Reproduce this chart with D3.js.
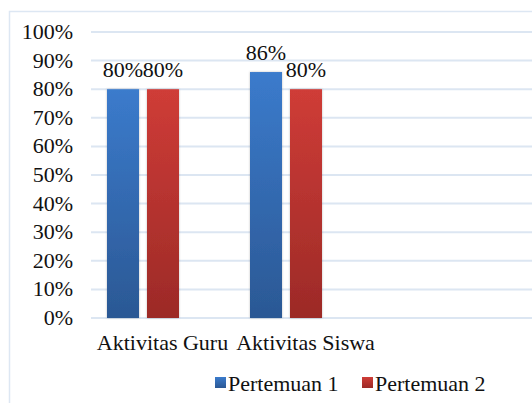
<!DOCTYPE html>
<html><head><meta charset="utf-8">
<script src="https://cdn.jsdelivr.net/npm/d3@7"></script>
<style>body{margin:0;background:#fff}svg{display:block}</style>
</head><body><svg id="c" width="532" height="403"></svg>
<script>
const categories = ["Aktivitas Guru", "Aktivitas Siswa"];
const seriesNames = ["Pertemuan 1", "Pertemuan 2"];
const pertemuan1 = [80, 86];
const pertemuan2 = [80, 80];
const yTicks = [0,10,20,30,40,50,60,70,80,90,100];

const svg = d3.select("#c");
const font = "'Liberation Serif','Times New Roman',serif";
const fs = 22;

// frame
svg.append("rect").attr("x",9.5).attr("y",11.5).attr("width",600).attr("height",500)
  .attr("fill","none").attr("stroke","#dde7f3").attr("stroke-width",1.5);

const y = d3.scaleLinear().domain([0,100]).range([318,32]);
const x0 = d3.scaleBand().domain(categories).range([91,377]).paddingInner(0).paddingOuter(0);
const x1 = d3.scaleBand().domain(seriesNames).range([-36,36]).paddingInner(0.2).paddingOuter(0);
const shift = -19.5;

// gridlines
svg.append("g").selectAll("line").data(yTicks).join("line")
  .attr("x1",91).attr("x2",532).attr("y1",d=>y(d)).attr("y2",d=>y(d))
  .attr("stroke","#dce6f2").attr("stroke-width",2);

// y labels
svg.append("g").selectAll("text").data(yTicks).join("text")
  .attr("x",73).attr("y",d=>y(d)+7).attr("text-anchor","end")
  .attr("font-family",font).attr("font-size",fs).attr("fill","#111")
  .text(d=>d+"%");

const defs = svg.append("defs");
const grads = [["#3b7bcc","#2b5894"],["#cf3c37","#9c2a27"]];
grads.forEach((g,i)=>{
  const lg = defs.append("linearGradient").attr("id","g"+i).attr("x1",0).attr("y1",0).attr("x2",0).attr("y2",1);
  lg.append("stop").attr("offset","0%").attr("stop-color",g[0]);
  lg.append("stop").attr("offset","100%").attr("stop-color",g[1]);
});
const f = defs.append("filter").attr("id","sh").attr("x","-20%").attr("y","-5%").attr("width","140%").attr("height","110%");
f.append("feDropShadow").attr("dx",0).attr("dy",0).attr("stdDeviation",1).attr("flood-color","#000").attr("flood-opacity",0.25);

const data = [];
categories.forEach((c,i)=>{
  data.push({cat:c, s:seriesNames[0], v:pertemuan1[i], k:0});
  data.push({cat:c, s:seriesNames[1], v:pertemuan2[i], k:1});
});

svg.append("g").selectAll("rect").data(data).join("rect")
  .attr("x",d=>x0(d.cat)+x0.bandwidth()/2+shift+x1(d.s))
  .attr("width",x1.bandwidth())
  .attr("y",d=>y(d.v)).attr("height",d=>y(0)-y(d.v))
  .attr("fill",d=>`url(#g${d.k})`).attr("filter","url(#sh)");

svg.append("g").selectAll("text").data(data).join("text")
  .attr("x",d=>x0(d.cat)+x0.bandwidth()/2+shift+x1(d.s)+x1.bandwidth()/2)
  .attr("y",d=>y(d.v)-12).attr("text-anchor","middle")
  .attr("font-family",font).attr("font-size",fs).attr("fill","#111")
  .text(d=>d.v+"%");

// category labels
svg.append("g").selectAll("text").data(categories).join("text")
  .attr("x",d=>x0(d)+x0.bandwidth()/2).attr("y",350).attr("text-anchor","middle")
  .attr("font-family",font).attr("font-size",fs).attr("fill","#111")
  .text(d=>d);

// legend
const legX = [215, 362];
const lg = svg.append("g").selectAll("g").data(seriesNames).join("g")
  .attr("transform",(d,i)=>`translate(${legX[i]},377)`);
lg.append("rect").attr("width",11).attr("height",11).attr("fill",(d,i)=>`url(#g${i})`);
lg.append("text").attr("x",13).attr("y",14).attr("font-family",font).attr("font-size",fs).attr("fill","#111").text(d=>d);
</script></body></html>
